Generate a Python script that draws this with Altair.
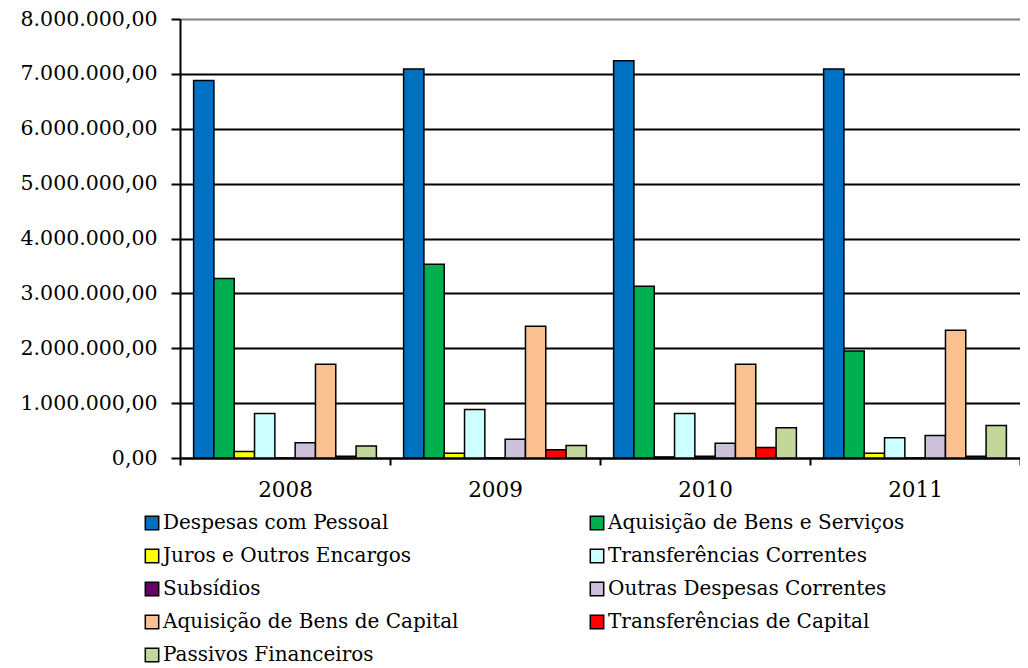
import altair as alt
import pandas as pd

years = ["2008", "2009", "2010", "2011"]
series = [
    "Despesas com Pessoal",
    "Aquisição de Bens e Serviços",
    "Juros e Outros Encargos",
    "Transferências Correntes",
    "Subsídios",
    "Outras Despesas Correntes",
    "Aquisição de Bens de Capital",
    "Transferências de Capital",
    "Passivos Financeiros",
]
colors = ["#0070C0", "#00B050", "#FFFF00", "#CCFFFF", "#660066",
          "#CCC0DA", "#FAC090", "#FF0000", "#C4D79B"]

v2008 = [6880000, 3270000, 120000, 810000, 0, 280000, 1710000, 30000, 220000]
v2009 = [7090000, 3530000, 85000, 885000, 0, 340000, 2400000, 150000, 230000]
v2010 = [7240000, 3130000, 20000, 810000, 30000, 270000, 1710000, 190000, 550000]
v2011 = [7090000, 1950000, 85000, 370000, 0, 410000, 2330000, 30000, 590000]
values_by_year = [v2008, v2009, v2010, v2011]

rows = []
for y, vals in zip(years, values_by_year):
    for s, v in zip(series, vals):
        rows.append({"ano": y, "serie": s, "valor": v})
df = pd.DataFrame(rows)

FONT = "DejaVu Serif"

chart = alt.Chart(df).mark_bar(stroke="black", strokeWidth=1.5).encode(
    x=alt.X(
        "ano:N",
        sort=years,
        scale=alt.Scale(paddingInner=0, paddingOuter=0),
        axis=alt.Axis(
            title=None,
            labelAngle=0,
            labelFont=FONT,
            labelFontSize=21.5,
            labelColor="black",
            labelPadding=14,
            tickBand="extent",
            tickSize=7,
            tickColor="black",
            tickWidth=2,
            domainColor="black",
            domainWidth=2,
            grid=False,
        ),
    ),
    xOffset=alt.XOffset(
        "serie:N",
        sort=series,
        scale=alt.Scale(paddingInner=0, paddingOuter=0.67),
    ),
    y=alt.Y(
        "valor:Q",
        scale=alt.Scale(domain=[0, 8000000], nice=False),
        axis=alt.Axis(
            title=None,
            values=[0, 1000000, 2000000, 3000000, 4000000, 5000000, 6000000, 7000000, 8000000],
            labelExpr="datum.value == 0 ? '0,00' : format(datum.value / 1000000, 'd') + '.000.000,00'",
            labelFont=FONT,
            labelFontSize=20.5,
            labelColor="black",
            labelPadding=14,
            tickSize=9,
            tickColor="black",
            tickWidth=2,
            domainColor="black",
            domainWidth=2,
            grid=True,
            gridColor=alt.condition("datum.value == 8000000", alt.value("#808080"), alt.value("black")),
            gridWidth=2,
        ),
    ),
    color=alt.Color(
        "serie:N",
        sort=series,
        scale=alt.Scale(domain=series, range=colors),
        legend=alt.Legend(
            title=None,
            orient="none",
            direction="horizontal",
            legendX=-38,
            legendY=494,
            columns=2,
            columnPadding=128,
            rowPadding=13,
            symbolType="square",
            symbolSize=180,
            symbolStrokeColor="black",
            symbolStrokeWidth=1.5,
            symbolOpacity=1,
            labelFont=FONT,
            labelFontSize=20,
            labelColor="black",
            labelOffset=1,
            labelLimit=500,
        ),
    ),
).properties(
    width=840,
    height=439,
    autosize=alt.AutoSizeParams(type="none"),
    padding={"left": 172, "top": 11, "right": 0, "bottom": 210},
).configure_view(
    strokeWidth=0
)

chart.save("out.html", embed_options={"renderer": "svg", "actions": False})
